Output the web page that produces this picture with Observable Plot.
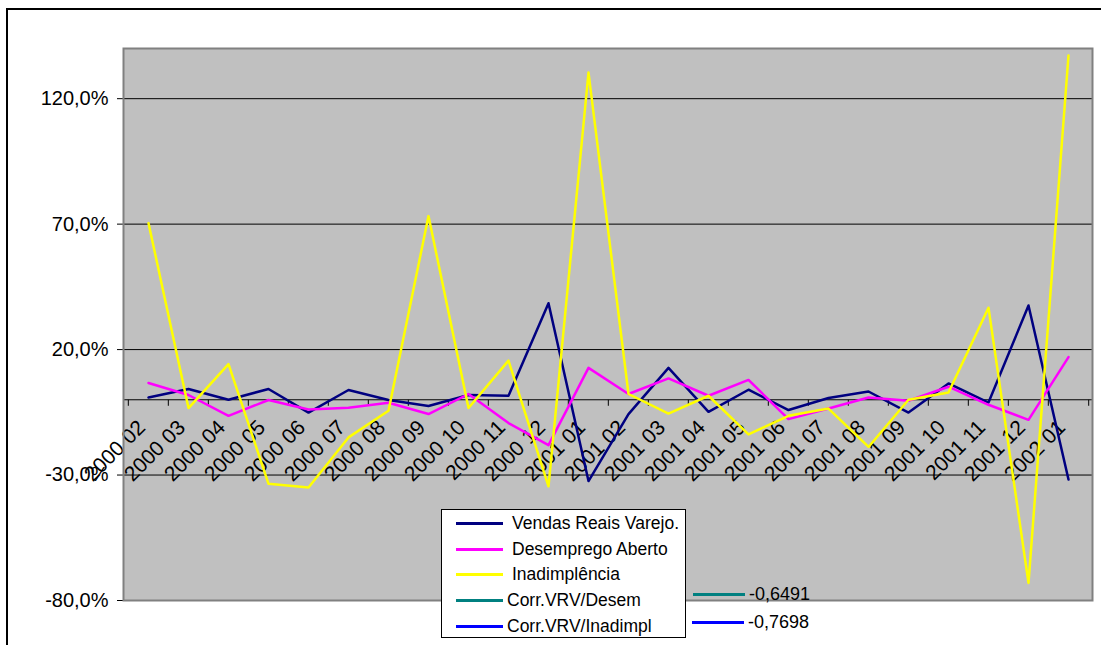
<!DOCTYPE html>
<html>
<head>
<meta charset="utf-8">
<script src="https://cdn.jsdelivr.net/npm/d3@7"></script>
<script src="https://cdn.jsdelivr.net/npm/@observablehq/plot@0.6"></script>
<style>
  body { margin: 0; background: #fff; }
  #chart { position: relative; width: 1101px; height: 645px; overflow: hidden;
           font-family: Arial, "Liberation Sans", sans-serif; color: #000; }
  #chart svg { position: absolute; left: 0; top: 0; }
  .outer { position: absolute; left: 6px; top: 8px; width: 1200px; height: 800px;
           border-top: 2px solid #000; border-left: 2px solid #000; }
  .legend { position: absolute; left: 441px; top: 509px; width: 245px; height: 129px;
            background: #fff; border: 1px solid #000; box-sizing: border-box; }
  .row { position: absolute; left: 0; height: 26px; display: flex; align-items: center;
         font-size: 17.5px; white-space: nowrap; }
  .swatch { display: inline-block; width: 47px; height: 3px; }
  .corr { position: absolute; display: flex; align-items: center; height: 26px;
          font-size: 18px; white-space: nowrap; }
</style>
</head>
<body>
<div id="chart"><div class="outer"></div></div>
<script>
// Monthly variation (%) of the three indicators
const months = [
  "2000 02", "2000 03", "2000 04", "2000 05", "2000 06", "2000 07", "2000 08", "2000 09",
  "2000 10", "2000 11", "2000 12", "2001 01", "2001 02", "2001 03", "2001 04", "2001 05",
  "2001 06", "2001 07", "2001 08", "2001 09", "2001 10", "2001 11", "2001 12", "2002 01"
];
const vendas = [0.9, 4.3, 0.0, 4.3, -5.1, 3.9, -0.1, -2.5, 1.9, 1.6, 38.5, -32.4,
                -5.7, 12.7, -4.8, 4.0, -4.1, 0.7, 3.3, -5.1, 6.5, -1.1, 37.6, -31.8];
const desemprego = [6.7, 1.9, -6.4, -0.1, -3.9, -3.2, -1.2, -5.7, 2.3, -9.3, -18.1, 12.7,
                    2.3, 8.5, 1.6, 7.9, -7.7, -3.5, 0.9, -0.4, 5.2, -2.0, -8.0, 17.0];
const inadimplencia = [70.4, -3.3, 14.2, -33.5, -35.0, -15.0, -4.4, 73.2, -3.3, 15.6, -34.5, 130.4,
                       2.3, -5.5, 1.6, -13.8, -6.4, -3.5, -18.8, 0.0, 2.9, 36.7, -73.0, 137.2];

const seriesNames = ["Vendas Reais Varejo.", "Desemprego Aberto", "Inadimplência"];
const seriesColors = ["#000080", "#ff00ff", "#ffff00"];
const seriesValues = [vendas, desemprego, inadimplencia];

// Correlations shown beside the legend
const corrNames = ["Corr.VRV/Desem", "Corr.VRV/Inadimpl"];
const corrValues = [-0.6491, -0.7698];
const corrColors = ["#008080", "#0000ff"];

const yTicks = [-80, -30, 20, 70, 120];

const rows = seriesNames.flatMap((name, s) =>
  months.map((m, i) => ({serie: name, mes: m, valor: seriesValues[s][i]})));

const fmtPct = v => v.toFixed(1).replace(".", ",") + "%";
const fmtNum = v => v.toFixed(4).replace(".", ",");

const W = 1101, H = 645, mL = 123, mR = 9, mT = 48, mB = 45;
const step = (W - mL - mR) / months.length;
// short downward tick for the category boundaries on the zero axis
const tickDown = {draw(ctx) { ctx.moveTo(0, 0); ctx.lineTo(0, 6); }};
const last = months[months.length - 1];

const chart = Plot.plot({
  width: W, height: H,
  marginLeft: mL, marginRight: mR, marginTop: mT, marginBottom: mB,
  style: {fontFamily: 'Arial, "Liberation Sans", sans-serif', fontSize: "20px", background: "transparent", color: "#000"},
  x: {type: "point", domain: months, padding: 0.5, axis: null},
  y: {domain: [-80, 140], ticks: yTicks, tickFormat: fmtPct, tickSize: 6, tickPadding: 9, label: null},
  color: {domain: seriesNames, range: seriesColors},
  marks: [
    Plot.frame({fill: "#c0c0c0"}),
    Plot.ruleY(yTicks.filter(v => v > -80), {stroke: "#000", strokeWidth: 1}),
    Plot.ruleY([0], {stroke: "#000", strokeWidth: 1}),
    Plot.dot(months, {x: d => d, y: () => 0, symbol: tickDown, fill: "none", stroke: "#000", strokeWidth: 1, dx: -step / 2}),
    Plot.dot([last], {x: d => d, y: () => 0, symbol: tickDown, fill: "none", stroke: "#000", strokeWidth: 1, dx: step / 2}),
    Plot.text(months, {x: d => d, y: () => 0, text: d => d, rotate: -45, textAnchor: "end",
                       lineAnchor: "bottom", dx: -2, dy: 29, fontSize: 21, fill: "#000"}),
    Plot.line(rows, {x: "mes", y: "valor", z: "serie", stroke: "serie", strokeWidth: 2.5}),
    Plot.frame({stroke: "#808080", strokeWidth: 2})
  ]
});
document.getElementById("chart").appendChild(chart);

// Legend box
const legend = document.createElement("div");
legend.className = "legend";
const entries = seriesNames.map((n, i) => ({name: n, color: seriesColors[i], gap: 9}))
  .concat(corrNames.map((n, i) => ({name: n, color: corrColors[i], gap: 4})));
const rowTops = [0, 26.5, 51.5, 77.5, 103];
entries.forEach((e, i) => {
  const r = document.createElement("div");
  r.className = "row";
  r.style.top = rowTops[i] + "px";
  r.style.left = "14px";
  r.innerHTML = `<span class="swatch" style="background:${e.color}"></span><span style="margin-left:${e.gap}px">${e.name}</span>`;
  legend.appendChild(r);
});
document.getElementById("chart").appendChild(legend);

// Correlation values with their line samples
const corrPos = [{left: 693, top: 581}, {left: 692, top: 609}];
corrValues.forEach((v, i) => {
  const c = document.createElement("div");
  c.className = "corr";
  c.style.left = corrPos[i].left + "px";
  c.style.top = corrPos[i].top + "px";
  c.innerHTML = `<span class="swatch" style="width:52px;background:${corrColors[i]}"></span><span style="margin-left:4px">${fmtNum(v)}</span>`;
  document.getElementById("chart").appendChild(c);
});
</script>
</body>
</html>
